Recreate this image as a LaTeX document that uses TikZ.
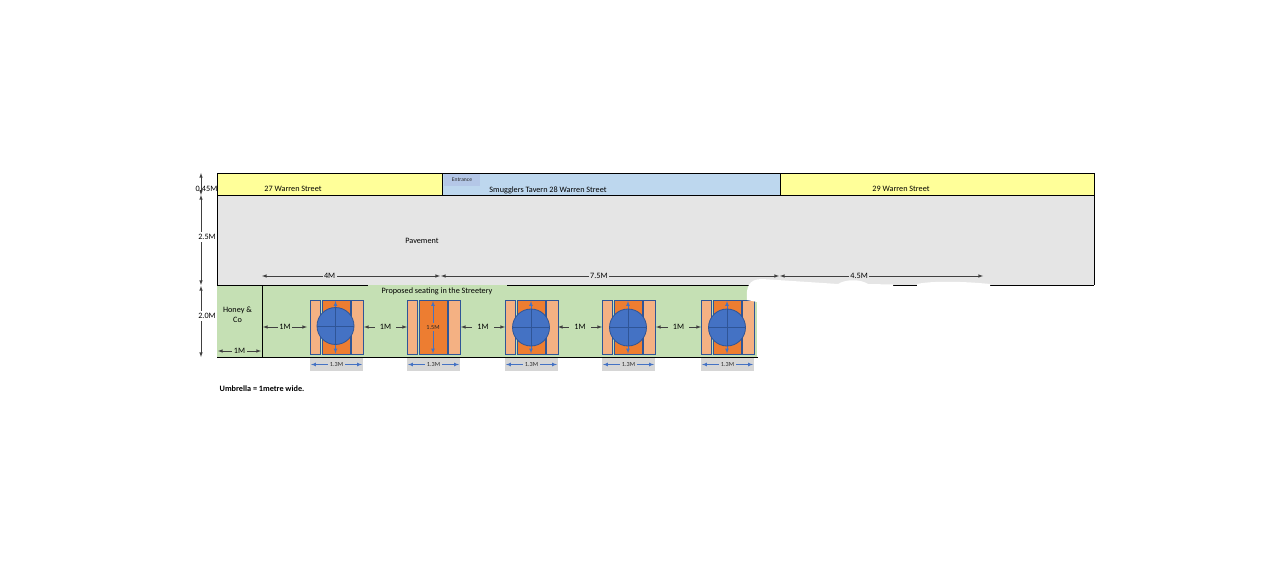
\documentclass[tikz,border=0pt]{standalone}
\usepackage{fontspec}
\setmainfont{Carlito}
\definecolor{houseyellow}{HTML}{FFFF99}
\definecolor{tavernblue}{HTML}{BDD7EE}
\definecolor{entrancebox}{HTML}{B4C7E7}
\definecolor{pavegrey}{HTML}{E5E5E5}
\definecolor{seatgreen}{HTML}{C5E0B4}
\definecolor{tableorange}{HTML}{ED7D31}
\definecolor{benchorange}{HTML}{F4B183}
\definecolor{brollyblue}{HTML}{4472C4}
\definecolor{edgeblue}{HTML}{2F5597}
\definecolor{taggrey}{HTML}{D6D6D6}
\tikzset{
	txt/.style={font=\fontsize{8.2}{9.2}\selectfont, text=black, inner sep=0.5pt, align=center},
	txtsmall/.style={font=\fontsize{6.2}{7}\selectfont, text=black!85, inner sep=0.5pt},
	dimline/.style={line width=0.6pt, color=black!75, latex-latex},
	bluedim/.style={line width=0.7pt, color=brollyblue, latex-latex},
	bench/.style={line width=0.9pt, draw=edgeblue, fill=benchorange},
	seattable/.style={line width=0.9pt, draw=edgeblue, fill=tableorange},
	brolly/.style={line width=0.8pt, draw=edgeblue, fill=brollyblue}
}
% benches, table and the 1.3M tag; #1 = left edge, #2 = tag name
\def\seatset[#1](#2){
	\draw[bench] (#1, 300.5) rectangle (#1+10.5, 354);
	\draw[seattable] (#1+12, 300.5) rectangle (#1+40, 354);
	\draw[bench] (#1+41.5, 300.5) rectangle (#1+53, 354);
	\fill[taggrey] (#1, 358) rectangle (#1+53, 371);
	\draw[bluedim] (#1+1, 364.5) -- node[txtsmall, fill=taggrey, inner xsep=1.5pt] (#2) {1.3M} (#1+52, 364.5);
}
% umbrella seen from above, with the table arrow under it
\def\brollyat(#1,#2){
	\draw[bluedim] (#1, 301) -- (#1, 353.5);
	\draw[brolly] (#1, #2) circle (18.5);
	\draw[line width=0.8pt, color=edgeblue] (#1-18.5, #2) -- (#1+18.5, #2);
	\draw[line width=0.8pt, color=edgeblue] (#1, #2-18.5) -- (#1, #2+18.5);
}
\begin{document}
\begin{tikzpicture}[x=1pt, y=-1pt]
	%%%%% START %%%%%
	\useasboundingbox (0, 0) rectangle (1284, 588);

	% ground areas
	\fill[pavegrey] (217, 195) rectangle (1094, 285);
	\fill[seatgreen] (217, 285) rectangle (757, 357);

	% buildings
	\draw[line width=0.9pt, fill=houseyellow] (217, 173) rectangle (442, 195);
	\draw[line width=0.9pt, fill=tavernblue] (442, 173) rectangle (780, 195);
	\draw[line width=0.9pt, fill=houseyellow] (780, 173) rectangle (1094, 195);
	\fill[entrancebox] (443.5, 174) rectangle (480, 186);
	\node[txtsmall, font=\fontsize{5.6}{6}\selectfont] (entrance) at (462, 180) {Entrance};

	\node[txt] (no27) at (293, 189) {27 Warren Street};
	\node[txt] (no28) at (548, 190) {Smugglers Tavern 28 Warren Street};
	\node[txt] (no29) at (901, 189) {29 Warren Street};
	\node[txt] (pavement) at (422, 240.5) {Pavement};
	\node[txt] (streetery) at (437, 291.5) {Proposed seating in the Streetery};

	% pavement outline
	\draw[line width=0.9pt] (217, 195) -- (217, 285);
	\draw[line width=0.9pt] (1094, 195) -- (1094, 285);
	\draw[line width=0.9pt] (217, 285) -- (368, 285);
	\draw[line width=0.9pt] (507, 285) -- (750, 285);
	\draw[line width=0.9pt] (880, 285) -- (1094, 285);
	\draw[line width=0.9pt] (217, 357) -- (758, 357);

	% Honey and Co
	\draw[line width=0.9pt] (262, 285) -- (262, 357);
	\node[txt] (honey) at (237.5, 314.5) {Honey \&\\[0.6pt]Co};
	\draw[dimline] (218, 351) -- node[txt, fill=seatgreen] (honeywidth) {\,1M\,} (261, 351);

	% seating
	\seatset[310](tagone)
	\seatset[407](tagtwo)
	\seatset[505](tagthree)
	\seatset[602](tagfour)
	\seatset[701](tagfive)

	\brollyat(335.5,326)
	\draw[bluedim] (433, 301) -- node[txtsmall, fill=tableorange, inner ysep=2pt] (tablelen) {1.5M} (433, 353.5);
	\brollyat(531,327.5)
	\brollyat(628,327.5)
	\brollyat(727,327.5)

	% gaps between the seating
	\draw[dimline] (263, 327) -- node[txt, fill=seatgreen, inner xsep=1.5pt] (gapone) {1M} (307, 327);
	\draw[dimline] (364, 327) -- node[txt, fill=seatgreen, inner xsep=5pt] (gaptwo) {1M} (407, 327);
	\draw[dimline] (461, 327) -- node[txt, fill=seatgreen, inner xsep=5pt] (gapthree) {1M} (505, 327);
	\draw[dimline] (558, 327) -- node[txt, fill=seatgreen, inner xsep=5pt] (gapfour) {1M} (602, 327);
	\draw[dimline] (656, 327) -- node[txt, fill=seatgreen, inner xsep=5pt] (gapfive) {1M} (701, 327);

	% lengths along the pavement
	\draw[dimline] (262, 276) -- node[txt, fill=pavegrey, inner xsep=1.5pt, pos=0.38] (fourm) {4M} (440, 276);
	\draw[dimline] (441, 276) -- node[txt, fill=pavegrey, inner xsep=1.5pt, pos=0.467] (sevenm) {7.5M} (779, 276);
	\draw[dimline] (780, 276) -- node[txt, fill=pavegrey, inner xsep=1.5pt, pos=0.39] (fourhalfm) {4.5M} (983, 276);

	% depths on the left
	\draw[dimline] (201, 173) -- (201, 195);
	\node[txt] (housedepth) at (206.5, 189) {0.45M};
	\draw[dimline] (201, 195) -- (201, 285);
	\node[txt, fill=white, inner ysep=2pt] (pavedepth) at (207, 237) {2.5M};
	\draw[dimline] (201, 286) -- (201, 357);
	\node[txt, fill=white, inner ysep=2pt] (seatdepth) at (207, 316) {2.0M};

	% white patches over the right of the street
	\fill[white] (747, 300) .. controls (746, 288) and (748, 279) .. (762, 279)
		-- (838, 284) .. controls (846, 279) and (860, 279) .. (868, 284)
		-- (893, 284.5) -- (893, 290) -- (917, 290) -- (917, 284)
		.. controls (930, 281) and (960, 281) .. (990, 284) -- (990, 292) -- (757, 292) -- (757, 302) -- cycle;

	\node[txt, right, font=\fontsize{8.2}{9}\selectfont\bfseries] (umbrella) at (219, 388.5) {Umbrella = 1metre wide.};
	%%%%% END %%%%%
\end{tikzpicture}
\end{document}
